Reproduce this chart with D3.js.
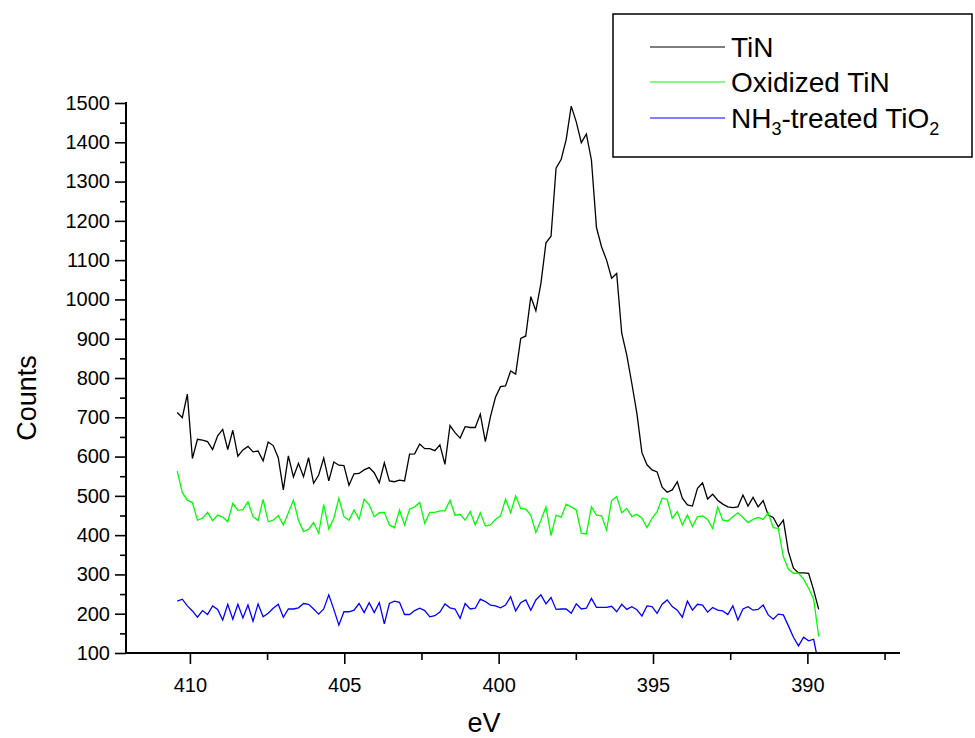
<!DOCTYPE html>
<html>
<head>
<meta charset="UTF-8">
<title>N 1s spectra</title>
<script src="https://cdn.jsdelivr.net/npm/d3@7"></script>
<style>
  body { margin: 0; background: #fff; }
  text { font-family: Arial, "Liberation Sans", sans-serif; }
</style>
</head>
<body>
<script>
// binding energy grid (eV): first point and spacing
var eVStart = 410.41, eVStep = -0.1636;

var tin = [712, 699, 759, 595, 644, 642, 638, 618, 653, 669,
  618, 667, 601, 617, 626, 612, 614, 589, 637, 628,
  597, 515, 602, 548, 583, 549, 597, 532, 553, 596,
  538, 586, 578, 577, 527, 556, 557, 566, 572, 559,
  533, 584, 538, 536, 540, 538, 606, 607, 632, 620,
  620, 615, 630, 580, 679, 661, 647, 676, 674, 674,
  708, 638, 701, 751, 778, 780, 818, 810, 901, 907,
  1007, 971, 1041, 1144, 1161, 1334, 1356, 1407, 1492, 1452,
  1399, 1421, 1355, 1183, 1134, 1100, 1054, 1066, 914, 858,
  786, 710, 610, 579, 566, 561, 522, 509, 515, 536,
  494, 477, 474, 519, 533, 492, 504, 489, 479, 472,
  470, 472, 502, 474, 496, 472, 488, 451, 445, 421,
  438, 358, 316, 304, 304, 303, 260, 211];

var oxTin = [563, 508, 489, 483, 438, 443, 458, 437, 451, 446,
  434, 481, 463, 465, 485, 447, 437, 491, 434, 438,
  450, 426, 457, 489, 438, 409, 415, 432, 405, 478,
  416, 443, 494, 447, 438, 464, 440, 491, 477, 447,
  457, 458, 426, 419, 464, 426, 466, 472, 483, 430,
  458, 458, 462, 462, 489, 450, 453, 438, 460, 426,
  457, 423, 426, 440, 449, 492, 457, 500, 468, 466,
  451, 407, 438, 472, 399, 451, 445, 479, 472, 464,
  405, 403, 472, 451, 449, 413, 488, 498, 457, 468,
  447, 453, 443, 419, 443, 460, 494, 491, 443, 460,
  426, 451, 422, 447, 449, 440, 417, 472, 438, 436,
  447, 457, 445, 432, 440, 445, 440, 457, 419, 417,
  345, 313, 303, 303, 288, 265, 237, 142];

var nh3TiO2 = [232, 237, 220, 207, 191, 208, 198, 220, 211, 184,
  224, 186, 224, 189, 222, 181, 225, 192, 201, 214,
  224, 191, 212, 212, 215, 226, 224, 212, 199, 212,
  248, 211, 171, 205, 205, 209, 226, 203, 228, 203,
  228, 174, 226, 232, 229, 198, 198, 208, 214, 208,
  192, 195, 204, 225, 215, 212, 188, 226, 212, 214,
  237, 231, 222, 220, 215, 222, 243, 207, 228, 235,
  209, 235, 248, 225, 241, 211, 212, 212, 201, 225,
  212, 214, 239, 216, 216, 216, 219, 205, 224, 211,
  218, 210, 194, 220, 218, 201, 224, 235, 218, 209,
  191, 232, 209, 224, 222, 204, 216, 209, 207, 198,
  220, 184, 212, 218, 209, 211, 222, 197, 186, 199,
  197, 169, 140, 118, 140, 131, 135, 70];

var seriesNames = ["TiN", "Oxidized TiN", "NH3-treated TiO2"];
var seriesColors = ["#000000", "#00ff00", "#0000ff"];
var xMajor = [410, 405, 400, 395, 390];
var xMinor = [407.5, 402.5, 397.5, 392.5, 387.5];
var yMajor = d3.range(100, 1501, 100);
var yMinor = d3.range(150, 1500, 100);

var w = 975, h = 738;
var svg = d3.select("body").append("svg")
    .attr("width", w)
    .attr("height", h);
svg.append("rect").attr("width", w).attr("height", h).attr("fill", "#fff");

var x = d3.scaleLinear().domain([412.07, 387.0]).range([126, 900]);
var y = d3.scaleLinear().domain([100, 1500]).range([653, 103]);

svg.append("clipPath").attr("id", "plot")
  .append("rect")
    .attr("x", 126).attr("y", 95)
    .attr("width", 774).attr("height", 558);

var all = [tin, oxTin, nh3TiO2];
var line = d3.line()
    .x(function(d, i) { return x(eVStart + i * eVStep); })
    .y(function(d) { return y(d); });

svg.append("g").attr("clip-path", "url(#plot)")
  .selectAll("path")
  .data(all)
  .enter().append("path")
    .attr("d", line)
    .attr("fill", "none")
    .attr("stroke", function(d, i) { return seriesColors[i]; })
    .attr("stroke-width", 1.3)
    .attr("stroke-linejoin", "miter");

// axes
function styleAxis(g) {
  g.select(".domain").remove();
  g.selectAll(".tick line").attr("stroke", "#000").attr("stroke-width", 1.6);
  g.selectAll(".tick text").attr("fill", "#000").attr("font-size", 20);
}

var gx = svg.append("g").attr("transform", "translate(0,653)");
gx.call(d3.axisBottom(x).tickValues(xMajor).tickSize(11).tickPadding(14)
    .tickFormat(d3.format("d")));
gx.call(styleAxis);
svg.append("g").attr("transform", "translate(0,653)")
  .call(d3.axisBottom(x).tickValues(xMinor).tickSize(7).tickFormat(""))
  .call(styleAxis);

var gy = svg.append("g").attr("transform", "translate(126,0)");
gy.call(d3.axisLeft(y).tickValues(yMajor).tickSize(11).tickPadding(5)
    .tickFormat(d3.format("d")));
gy.call(styleAxis);
svg.append("g").attr("transform", "translate(126,0)")
  .call(d3.axisLeft(y).tickValues(yMinor).tickSize(6).tickFormat(""))
  .call(styleAxis);

svg.append("line")
    .attr("x1", 126).attr("x2", 900).attr("y1", 653).attr("y2", 653)
    .attr("stroke", "#000").attr("stroke-width", 2);
svg.append("line")
    .attr("x1", 126).attr("x2", 126).attr("y1", 102).attr("y2", 654)
    .attr("stroke", "#000").attr("stroke-width", 2);

// axis titles
svg.append("text")
    .attr("x", 484).attr("y", 732)
    .attr("text-anchor", "middle")
    .attr("font-size", 27)
    .text("eV");
svg.append("text")
    .attr("transform", "translate(36,398) rotate(-90)")
    .attr("text-anchor", "middle")
    .attr("font-size", 27)
    .text("Counts");

// legend
var lg = svg.append("g");
lg.append("rect")
    .attr("x", 613).attr("y", 14)
    .attr("width", 359).attr("height", 143)
    .attr("fill", "#fff").attr("stroke", "#000").attr("stroke-width", 1.5);

var rowY = [47, 82, 118];
seriesNames.forEach(function(name, i) {
  lg.append("line")
      .attr("x1", 650).attr("x2", 725)
      .attr("y1", rowY[i]).attr("y2", rowY[i])
      .attr("stroke", seriesColors[i]).attr("stroke-width", 1);
  var t = lg.append("text")
      .attr("x", 731).attr("y", rowY[i] + 10)
      .attr("font-size", 28);
  if (i < 2) {
    t.text(name);
  } else {
    t.append("tspan").text("NH");
    t.append("tspan").attr("font-size", 18).attr("dy", 7).text("3");
    t.append("tspan").attr("dy", -7).text("-treated TiO");
    t.append("tspan").attr("font-size", 18).attr("dy", 7).text("2");
  }
});
</script>
</body>
</html>
